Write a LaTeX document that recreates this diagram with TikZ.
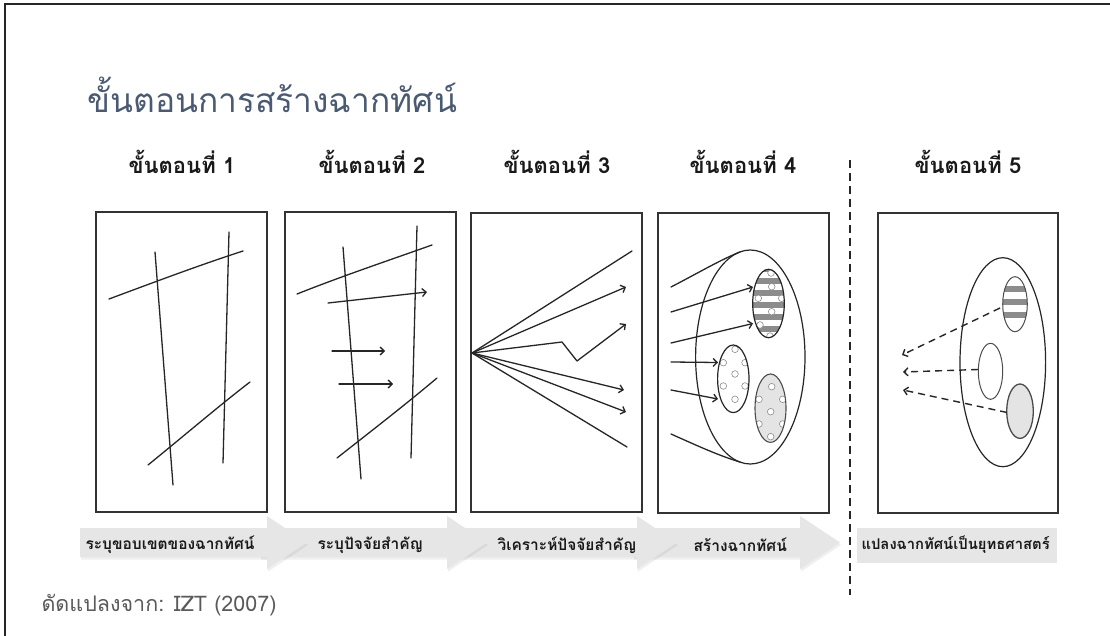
\documentclass[tikz,border=0pt]{standalone}
\usepackage{fontspec}
\newfontfamily\thai[Script=Thai]{Loma}
\usetikzlibrary{arrows.meta,shadows}
\definecolor{titleblue}{HTML}{4A5A72}
\definecolor{boxgray}{HTML}{333333}
\definecolor{arrowfill}{HTML}{E6E6E6}
\definecolor{stripe}{HTML}{8C8C8C}
\definecolor{lightfill}{HTML}{E4E4E4}
\definecolor{footgray}{HTML}{5A5A5A}
\tikzset{
  panel/.style={draw=boxgray,line width=1.8pt},
  stroke/.style={draw=black!85,line width=1.3pt,line cap=round},
  arr/.style={stroke,-{Straight Barb[length=4pt,width=8pt]}},
  darr/.style={draw=black!85,line width=1.4pt,dash pattern=on 7pt off 5pt,-{Straight Barb[length=4pt,width=8pt]}},
  header/.style={font=\thai\bfseries\fontsize{22}{26}\selectfont,text=black!90,anchor=base},
  proc/.style={fill=arrowfill,draw=none,drop shadow={opacity=0.12,shadow xshift=1pt,shadow yshift=-2.5pt}},
  plabel/.style={font=\thai\bfseries\fontsize{15.5}{18}\selectfont,text=black!90,anchor=west},
  dot/.style={draw=black!45,fill=white,line width=0.6pt},
  oval/.style={draw=black!85,line width=1.2pt}
}
\begin{document}
\begin{tikzpicture}[x=1pt,y=-1pt]
\useasboundingbox (0,0) rectangle (1110,636);
\fill[white] (0,0) rectangle (1110,636);
% frame
\draw[black!85,line width=2.5pt] (5,636) -- (5,4) -- (1110,4);
% title
\node[anchor=base west,font=\thai\fontsize{33.5}{40}\selectfont,text=titleblue] (title) at (84,113) {ขั้นตอนการสร้างฉากทัศน์};
% headers
\node[header] (h1) at (182,174) {ขั้นตอนที่ 1};
\node[header] (h2) at (372,174) {ขั้นตอนที่ 2};
\node[header] (h3) at (557,174) {ขั้นตอนที่ 3};
\node[header] (h4) at (743,174) {ขั้นตอนที่ 4};
\node[header] (h5) at (968,174) {ขั้นตอนที่ 5};
% dashed separator
\coordinate (s1) at (850,160);
\coordinate (s2) at (850,595);
\draw[black!85,line width=1.3pt,dash pattern=on 8pt off 5pt] (s1) -- (s2);
% panels
\draw[panel] (96,212) rectangle (267,512);
\draw[panel] (285,212) rectangle (456,512);
\draw[panel] (471,213) rectangle (642,512);
\draw[panel] (658,213) rectangle (829,513);
\draw[panel] (878,213) rectangle (1058,513);
% ---- panel 1
\draw[stroke] (155,252) -- (173,485);
\draw[stroke] (229,232) -- (223,463);
\draw[stroke] (109,299) .. controls (160,280) and (200,265) .. (243,251);
\draw[stroke] (148,465) .. controls (185,435) and (220,405) .. (250,382);
% ---- panel 2
\draw[stroke] (343,247) -- (361,479);
\draw[stroke] (417,226) -- (411,458);
\draw[stroke] (297,294) .. controls (345,275) and (390,260) .. (432,245);
\draw[stroke] (337,458) .. controls (370,432) and (405,405) .. (437,378);
\draw[arr] (328,303) -- (427,292);
\draw[arr] (332,351) -- (385,351);
\draw[arr] (339,384) -- (393,384);
% ---- panel 3
\coordinate (o3) at (472,353);
\draw[stroke] (o3) -- (632,251);
\draw[arr] (o3) -- (626,287);
\draw[arr,line join=round] (o3) -- (562,342) -- (577,361) -- (626,324);
\draw[arr] (o3) -- (624,390);
\draw[arr] (o3) -- (626,412);
\draw[stroke] (o3) -- (627,447);
% ---- panel 4
\draw[oval] (750.3,357) ellipse [x radius=54.7,y radius=107];
\draw[stroke] (671,287) .. controls (700,272) and (720,260) .. (740,252);
\draw[stroke] (671,434) .. controls (700,447) and (720,456) .. (740,462);
% striped oval
\begin{scope}
\clip (768.5,303.5) ellipse [x radius=15.8,y radius=34.2];
\foreach \yy in {266,278,290,302,314,326,338} {\fill[stripe] (740,\yy) rectangle (800,\yy+5.5);}
\foreach \p in {(771.7,286.7),(758.3,298.3),(781.7,298.3),(771.7,311.7),(760,325),(770,336),(771,273)} {\draw[dot] \p circle (3.3);}
\end{scope}
\draw[oval] (768.5,303.5) ellipse [x radius=15.8,y radius=34.2];
% dotted oval
\begin{scope}
\clip (733.3,378.8) ellipse [x radius=15.7,y radius=33.8];
\foreach \p in {(735,349.3),(723.3,362.7),(745,362.7),(735,374),(723.3,386),(745,386),(735,399.3)} {\draw[dot] \p circle (3.3);}
\end{scope}
\draw[oval] (733.3,378.8) ellipse [x radius=15.7,y radius=33.8];
% gray oval
\fill[lightfill] (770.5,408.2) ellipse [x radius=15.5,y radius=34.2];
\begin{scope}
\clip (770.5,408.2) ellipse [x radius=15.5,y radius=34.2];
\foreach \p in {(771.7,386.7),(759,399.3),(782.7,399.3),(770.7,411.7),(759,424),(782.7,424),(770.7,436.7)} {\draw[dot] \p circle (3.3);}
\end{scope}
\draw[draw=black!70,line width=1.1pt] (770.5,408.2) ellipse [x radius=15.5,y radius=34.2];
\draw[arr] (671,312) -- (753,287);
\draw[arr] (671,343) -- (753,323.5);
\draw[arr] (671,362) -- (718,362.5);
\draw[arr] (671,390) -- (718,399);
% ---- panel 5
\draw[oval] (1002.8,362.2) ellipse [x radius=42.8,y radius=104.5];
\begin{scope}
\clip (1015,304.2) ellipse [x radius=12.3,y radius=27.5];
\foreach \yy in {286,299,312} {\fill[stripe] (995,\yy) rectangle (1035,\yy+5.5);}
\end{scope}
\draw[draw=black!70,line width=1pt] (1015,304.2) ellipse [x radius=12.3,y radius=27.5];
\draw[draw=black!70,line width=1pt] (990.5,371.3) ellipse [x radius=12.2,y radius=28];
\fill[lightfill] (1020,411.2) ellipse [x radius=13.3,y radius=27.2];
\draw[draw=black!70,line width=1.3pt] (1020,411.2) ellipse [x radius=13.3,y radius=27.2];
\draw[darr] (1000,308) -- (902,355);
\draw[darr] (978,369.5) -- (903,372);
\draw[darr] (1007,412.5) -- (903,390);
% ---- process arrows
\path[proc] (633,528) -- (800,528) -- (800,516) -- (840,542.5) -- (800,569) -- (800,557) -- (633,557) -- cycle;
\path[proc] (450,528) -- (637,528) -- (637,516) -- (677,542.5) -- (637,569) -- (637,557) -- (450,557) -- cycle;
\path[proc] (260,528) -- (447,528) -- (447,516) -- (487,542.5) -- (447,569) -- (447,557) -- (260,557) -- cycle;
\path[proc] (80,528) -- (267,528) -- (267,516) -- (307,542.5) -- (267,569) -- (267,557) -- (80,557) -- cycle;
\fill[arrowfill] (857,528) rectangle (1057,563);
\node[plabel] (p1) at (82,545) {ระบุขอบเขตของฉากทัศน์};
\node[plabel] (p2) at (314,545) {ระบุปัจจัยสำคัญ};
\node[plabel] (p3) at (494,545) {วิเคราะห์ปัจจัยสำคัญ};
\node[plabel] (p4) at (690,545) {สร้างฉากทัศน์};
\node[plabel,font=\thai\bfseries\fontsize{14.8}{18}\selectfont] (p5) at (858,545) {แปลงฉากทัศน์เป็นยุทธศาสตร์};
% footer
\node[anchor=west,font=\thai\fontsize{21.5}{25}\selectfont,text=footgray] (foot) at (38,605) {ดัดแปลงจาก: IZT (2007)};
\end{tikzpicture}
\end{document}
